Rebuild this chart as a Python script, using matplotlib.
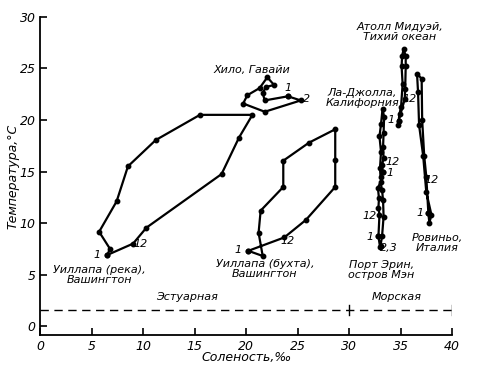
import matplotlib.pyplot as plt

# Данные: соленость (‰) и температура (°C) по месяцам
reka_s = [6.5, 6.75, 5.7, 7.4, 8.5, 11.2, 15.5, 20.6, 19.3, 17.6, 10.3, 9.0]
reka_t = [6.9, 7.5, 9.15, 12.1, 15.5, 18.05, 20.5, 20.5, 18.3, 14.75, 9.55, 8.0]

bukhta_s = [20.2, 21.6, 21.2, 21.4, 23.6, 23.6, 26.1, 28.65, 28.65, 28.65, 25.8, 23.7]
bukhta_t = [7.3, 6.8, 9.05, 11.2, 13.5, 16.05, 17.8, 19.1, 16.1, 13.5, 10.3, 8.6]

hilo_s = [24.05, 25.3, 21.8, 19.7, 20.1, 21.3, 22.05, 22.7, 21.9, 21.6, 21.8]
hilo_t = [22.3, 21.9, 20.8, 21.6, 22.4, 23.1, 24.15, 23.4, 23.2, 22.6, 21.9]

midway_s = [34.8, 34.75, 34.9, 35.05, 35.2, 35.1, 35.15, 35.3, 35.5, 35.5, 35.45, 35.4]
midway_t = [19.9, 19.5, 20.6, 21.3, 23.5, 25.2, 26.2, 26.9, 26.2, 25.2, 23.0, 22.0]

lajolla_s = [33.25, 33.05, 33.0, 33.1, 32.95, 33.1, 33.25, 33.4, 33.35, 33.3, 33.35, 33.2]
lajolla_t = [15.0, 14.5, 15.3, 16.9, 18.4, 19.6, 21.1, 20.3, 18.7, 17.4, 16.3, 15.6]

erin_s = [32.85, 33.0, 33.05, 33.2, 33.35, 33.3, 33.2, 33.05, 32.8, 32.9, 32.85, 32.95]
erin_t = [8.7, 7.7, 7.8, 8.7, 10.6, 12.2, 13.2, 14.0, 13.4, 12.4, 11.5, 10.8]

rovinj_s = [37.7, 37.8, 38.0, 37.5, 37.2, 36.8, 36.7, 36.6, 37.05, 37.1, 37.3, 37.5]
rovinj_t = [11.0, 10.0, 10.8, 13.0, 16.5, 19.5, 22.7, 24.5, 24.0, 20.0, 16.5, 14.5]

granica_t = 1.55

fig = plt.figure(figsize=(4.92, 3.75), dpi=100)
ax = fig.add_axes([0.0823, 0.1067, 0.8364, 0.848])

fnt = dict(family='DejaVu Sans', style='italic', fontsize=8)

for s, t in [(reka_s, reka_t), (bukhta_s, bukhta_t), (hilo_s, hilo_t),
             (midway_s, midway_t), (lajolla_s, lajolla_t),
             (erin_s, erin_t), (rovinj_s, rovinj_t)]:
    ax.plot(s + s[:1], t + t[:1], color='black', lw=1.6,
            marker='o', markersize=3.2, solid_joinstyle='round')

# Граница эстуарных и морских вод
ax.plot([0, 40], [granica_t, granica_t], color='black', lw=1.0, dashes=(6, 4))
ax.plot([30, 30], [granica_t - 0.5, granica_t + 0.5], color='black', lw=1.0)
ax.plot([40, 40], [granica_t - 0.5, granica_t + 0.5], color='black', lw=1.0)
ax.text(14.2, 2.8, 'Эстуарная', ha='center', va='center', **fnt)
ax.text(34.6, 2.8, 'Морская', ha='center', va='center', **fnt)

# Подписи станций
ax.text(5.7, 4.95, 'Уиллапа (река),\nВашингтон', ha='center', va='center',
        linespacing=1.0, **fnt)
ax.text(21.8, 5.5, 'Уиллапа (бухта),\nВашингтон', ha='center', va='center',
        linespacing=1.0, **fnt)
ax.text(20.5, 24.9, 'Хило, Гавайи', ha='center', va='center', **fnt)
ax.text(34.9, 28.5, 'Атолл Мидуэй,\nТихий океан', ha='center', va='center',
        linespacing=1.0, **fnt)
ax.text(31.3, 22.1, 'Ла-Джолла,\nКалифорния', ha='center', va='center',
        linespacing=1.0, **fnt)
ax.text(33.15, 5.45, 'Порт Эрин,\nостров Мэн', ha='center', va='center',
        linespacing=1.0, **fnt)
ax.text(38.6, 8.05, 'Ровиньо,\nИталия', ha='center', va='center',
        linespacing=1.0, **fnt)

# Номера месяцев
mesyacy = [(5.5, 6.9, '1'), (9.75, 8.0, '12'), (19.2, 7.4, '1'), (24.0, 8.3, '12'),
           (24.1, 23.1, '1'), (25.9, 22.0, '2'), (34.1, 20.0, '1'), (35.9, 22.0, '12'),
           (34.2, 15.9, '12'), (34.0, 14.9, '1'), (32.0, 10.7, '12'), (32.0, 8.6, '1'),
           (33.9, 7.6, '2,3'), (38.0, 14.2, '12'), (36.85, 10.95, '1')]
for x, y, m in mesyacy:
    ax.text(x, y, m, ha='center', va='center', **fnt)

ax.set_xlim(0, 40)
ax.set_ylim(-0.87, 30)
ax.set_xticks(range(0, 41, 5))
ax.set_yticks(range(0, 31, 5))
ax.spines['top'].set_visible(False)
ax.spines['right'].set_visible(False)
ax.spines['left'].set_linewidth(1.3)
ax.spines['bottom'].set_linewidth(1.3)
ax.tick_params(direction='in', length=5, width=1.2, labelsize=9)
for lab in ax.get_xticklabels() + ax.get_yticklabels():
    lab.set_fontstyle('italic')

ax.set_xlabel('Соленость,‰', fontsize=9, style='italic', labelpad=-1)
ax.set_ylabel('Температура,°C', fontsize=9, style='italic', labelpad=0)

fig.savefig('out.png', dpi=100)
